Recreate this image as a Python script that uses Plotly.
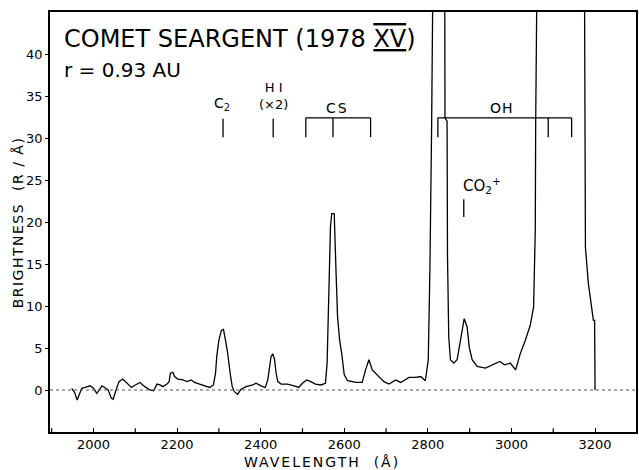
import plotly.graph_objects as go

# ---- data ----
wavelength = [1948, 1955, 1961, 1966, 1972, 1980, 1992, 2000, 2008, 2014, 2020, 2027, 2035, 2043, 2047,
              2054, 2061, 2070, 2079, 2091, 2097, 2111, 2123, 2135, 2144, 2152, 2159, 2166, 2176, 2181,
              2184, 2190, 2194, 2202, 2214, 2224, 2234, 2242, 2254, 2266, 2278, 2287, 2292, 2295, 2300,
              2306, 2311, 2316, 2321, 2327, 2332, 2337, 2345, 2353, 2365, 2381, 2389, 2401, 2411, 2417,
              2421, 2425, 2429, 2433, 2437, 2441, 2449, 2464, 2480, 2491, 2500, 2510, 2520, 2531, 2544,
              2555, 2559, 2563, 2567, 2570, 2576, 2580, 2584, 2589, 2594, 2600, 2608, 2628, 2643, 2651,
              2659, 2667, 2679, 2695, 2707, 2723, 2735, 2755, 2771, 2783, 2794, 2801, 2805, 2809, 2814,
              2840, 2841, 2846, 2847, 2850, 2854, 2862, 2870, 2878, 2887, 2894, 2899, 2906, 2918, 2938,
              2957, 2972, 2984, 2997, 3010, 3021, 3033, 3045, 3053, 3057, 3058, 3063, 3174, 3175, 3177,
              3184, 3190, 3196, 3199, 3200]
brightness = [0.2, -0.3, -1.2, -0.6, 0.2, 0.3, 0.5, 0.2, -0.4, 0.0, 0.5, 0.3, 0.0, -1.0, -1.1,
              0.0, 1.0, 1.3, 0.9, 0.3, 0.5, 0.9, 0.4, 0.0, -0.1, 0.7, 0.6, 0.4, 0.7, 1.0,
              2.0, 2.1, 1.6, 1.3, 1.2, 1.0, 1.2, 0.9, 0.7, 0.5, 0.3, 0.6, 2.0, 4.0, 5.9,
              7.1, 7.2, 5.9, 4.4, 2.0, 0.4, -0.2, -0.5, 0.1, 0.4, 0.6, 0.8, 0.5, 0.3, 1.2,
              2.8, 4.0, 4.3, 3.7, 2.0, 1.0, 0.7, 0.7, 0.5, 0.3, 0.8, 1.2, 1.0, 0.7, 0.6,
              0.8, 3.2, 11.5, 19.4, 21.0, 21.0, 14.6, 8.7, 5.9, 4.3, 1.8, 1.1, 0.9, 0.9, 2.4,
              3.6, 2.4, 1.8, 1.0, 0.7, 1.2, 0.9, 1.5, 1.5, 1.6, 1.1, 3.6, 14.6, 31.2, 60,
              60, 32.4, 32.0, 16.0, 6.3, 3.6, 3.2, 3.6, 5.9, 8.5, 7.5, 5.1, 3.6, 2.8, 2.6,
              3.0, 3.4, 3.0, 3.2, 2.4, 4.3, 5.9, 7.7, 9.9, 19.0, 32.0, 60, 60, 26.3, 17.0,
              12.7, 10.7, 8.3, 8.3, 0.0]

x_tick_vals = [2000, 2200, 2400, 2600, 2800, 3000, 3200]
x_tick_text = ["2000", "2200", "2400", "2600", "2800", "3000", "3200"]
x_minor_vals = [1900, 2100, 2300, 2500, 2700, 2900, 3100, 3300]
y_tick_vals = [0, 5, 10, 15, 20, 25, 30, 35, 40]
y_tick_text = ["0", "5", "10", "15", "20", "25", "30", "35", "40"]

c2_band = [2310]
hi_band = [2430]
cs_bands = [2508, 2573, 2663]
oh_bands = [2824, 3088, 3144]
co2p_band = [2886]

FONT = "DejaVu Sans"

fig = go.Figure()
fig.add_trace(go.Scatter(x=wavelength, y=brightness, mode="lines",
                         line=dict(color="black", width=1.3), hoverinfo="skip"))

shapes = []
# zero line
shapes.append(dict(type="line", xref="paper", yref="y", x0=0, x1=1, y0=0, y1=0,
                   line=dict(color="#555", width=1.2, dash="dot")))
tick_lo, tick_hi, bracket_y = 30.1, 32.3, 32.4
for b in c2_band + hi_band:
    shapes.append(dict(type="line", x0=b, x1=b, y0=tick_lo, y1=tick_hi, line=dict(color="black", width=1.3)))
for group in (cs_bands, oh_bands):
    shapes.append(dict(type="line", x0=group[0], x1=group[-1], y0=bracket_y, y1=bracket_y,
                       line=dict(color="black", width=1.3)))
    for b in group:
        shapes.append(dict(type="line", x0=b, x1=b, y0=tick_lo, y1=bracket_y,
                           line=dict(color="black", width=1.3)))
for b in co2p_band:
    shapes.append(dict(type="line", x0=b, x1=b, y0=20.6, y1=22.7, line=dict(color="black", width=1.3)))
# minor x ticks (inside, along bottom)
for v in x_minor_vals:
    shapes.append(dict(type="line", x0=v, x1=v, yref="paper", y0=0, y1=0.009,
                       line=dict(color="black", width=1.2)))

annotations = [
    dict(text='COMET SEARGENT (1978 <span style="text-decoration:underline overline">XV</span>)',
         xref="paper", yref="paper", x=0.02, y=0.935, xanchor="left", yanchor="middle",
         showarrow=False, font=dict(family=FONT, size=24, color="black")),
    dict(text="r = 0.93 AU", xref="paper", yref="paper", x=0.02, y=0.862, xanchor="left",
         yanchor="middle", showarrow=False, font=dict(family=FONT, size=20, color="black")),
    dict(text="C<sub>2</sub>", x=c2_band[0] - 3, y=34.0, showarrow=False,
         font=dict(family=FONT, size=14, color="black")),
    dict(text="H I<br>(×2)", x=hi_band[0], y=35.0, showarrow=False,
         font=dict(family=FONT, size=13, color="black")),
    dict(text='<span style="letter-spacing:2px">CS</span>', x=2585, y=33.6, showarrow=False,
         font=dict(family=FONT, size=14, color="black")),
    dict(text='<span style="letter-spacing:1px">OH</span>', x=2977, y=33.6, showarrow=False,
         font=dict(family=FONT, size=14, color="black")),
    dict(text="CO<sub>2</sub><sup>+</sup>", x=2880, y=24.4, xanchor="left", showarrow=False,
         font=dict(family=FONT, size=15, color="black")),
    dict(text='<span style="letter-spacing:1.5px">BRIGHTNESS  (R / Å)</span>', xref="paper",
         yref="paper", x=-0.054, y=0.5, textangle=-90,
         showarrow=False, xanchor="center", yanchor="middle",
         font=dict(family=FONT, size=14, color="black")),
    dict(text='<span style="letter-spacing:2px">WAVELENGTH  (Å)</span>', xref="paper", yref="paper",
         x=0.464, y=-0.072, showarrow=False, xanchor="center", yanchor="middle",
         font=dict(family=FONT, size=14, color="black")),
]

fig.update_layout(
    width=639, height=470,
    margin=dict(l=50, r=1, t=12, b=38),
    paper_bgcolor="white", plot_bgcolor="white",
    showlegend=False,
    shapes=shapes, annotations=annotations,
    xaxis=dict(range=[1896, 3298], tickmode="array", tickvals=x_tick_vals, ticktext=x_tick_text,
               ticks="inside", ticklen=4, tickcolor="black", showgrid=False, zeroline=False,
               showline=True, linecolor="black", linewidth=1.5, mirror=True,
               tickfont=dict(family=FONT, size=13, color="black")),
    yaxis=dict(range=[-5, 45], tickmode="array", tickvals=y_tick_vals, ticktext=y_tick_text,
               ticks="outside", ticklen=3, tickcolor="black", showgrid=False, zeroline=False,
               showline=True, linecolor="black", linewidth=1.5, mirror=True,
               tickfont=dict(family=FONT, size=13, color="black")),
)

fig.write_html("out.html", config={"displayModeBar": False},
               post_script="document.body.style.margin='0';document.body.style.overflow='hidden';")
